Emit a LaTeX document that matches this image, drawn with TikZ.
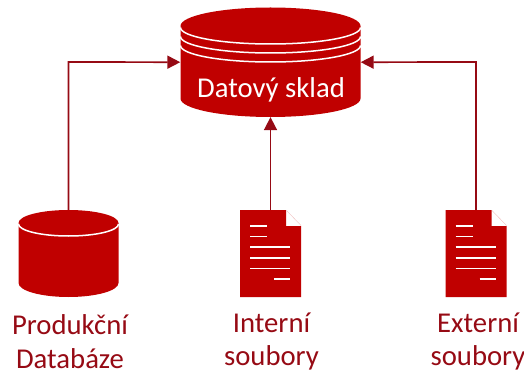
\documentclass[tikz,border=0pt]{standalone}
\usepackage{fontspec}
\setmainfont{Carlito}
\usetikzlibrary{arrows.meta}
\definecolor{red1}{RGB}{192,0,0}
\definecolor{red2}{RGB}{150,10,20}
\tikzset{
  x=1pt,y=-1pt,
  link/.style={draw=red2,line width=1.7pt,-{Triangle[width=13pt,length=13pt]}},
  wline/.style={draw=white,line width=1.5pt},
  lbl/.style={text=red2,font=\fontsize{28.7}{33.5}\selectfont,align=center,inner sep=0pt},
}
\newcommand{\docicon}[1]{%
  \begin{scope}[shift={(#1,0)}]
    \fill[red1] (240,210) -- (286,210) -- (286,226) -- (301,226) -- (301,297) -- (240,297) -- cycle;
    \draw[red1!25,line width=0.4pt] (286.5,210.5) -- (301,225.5);
    \foreach \yy in {226,236.5}{\draw[wline,line width=1.9pt] (250,\yy) -- (267,\yy);}
    \foreach \yy in {247,258,268.5}{\draw[wline,line width=1.9pt] (250,\yy) -- (290,\yy);}
    \draw[wline,line width=1.9pt] (274,279) -- (290,279);
  \end{scope}}
\begin{document}
\begin{tikzpicture}
\useasboundingbox (0,0) rectangle (524,374);
% big cylinder
\fill[red1] (180.5,26) arc[start angle=180,end angle=0,x radius=90,y radius=-18.5] -- (360.5,98.5)
  arc[start angle=0,end angle=180,x radius=90,y radius=18.5] -- cycle;
\foreach \dy in {0,9,18}{
  \draw[wline] (180.5,27.5+\dy) arc[start angle=180,end angle=360,x radius=90,y radius=-16.5];
}
\node[inner sep=0pt,minimum width=180pt,minimum height=109.5pt] (dw) at (270.5,62.2) {};
\node[text=white,font=\fontsize{28.7}{33.5}\selectfont,inner sep=0pt] (dwl) at (271,90) {Datový sklad};
% small cylinder
\fill[red1] (18.5,223) arc[start angle=180,end angle=0,x radius=50,y radius=-13] -- (118.5,283)
  arc[start angle=0,end angle=180,x radius=50,y radius=14] -- cycle;
\draw[wline] (18.5,224) arc[start angle=180,end angle=360,x radius=50,y radius=-12];
\node[inner sep=0pt,minimum width=100pt,minimum height=87pt] (db) at (68.5,253.5) {};
% documents
\docicon{0}
\docicon{205.5}
\node[inner sep=0pt,minimum width=61pt,minimum height=87pt] (d1) at (270.5,253.5) {};
\node[inner sep=0pt,minimum width=61pt,minimum height=87pt] (d2) at (476,253.5) {};
% connectors
\draw[link] (db.north) -- (68.5,62) -- (dw.west);
\draw[link] (d1.north) -- (dw.south);
\draw[link] (d2.north) -- (476,62) -- (dw.east);
% labels
\node[lbl] (l1) at (70,341.5) {Produkční\\Databáze};
\node[lbl] (l2) at (271.5,341.5) {Interní\\soubory};
\node[lbl] (l3) at (478,341.5) {Externí\\soubory};
\end{tikzpicture}
\end{document}
